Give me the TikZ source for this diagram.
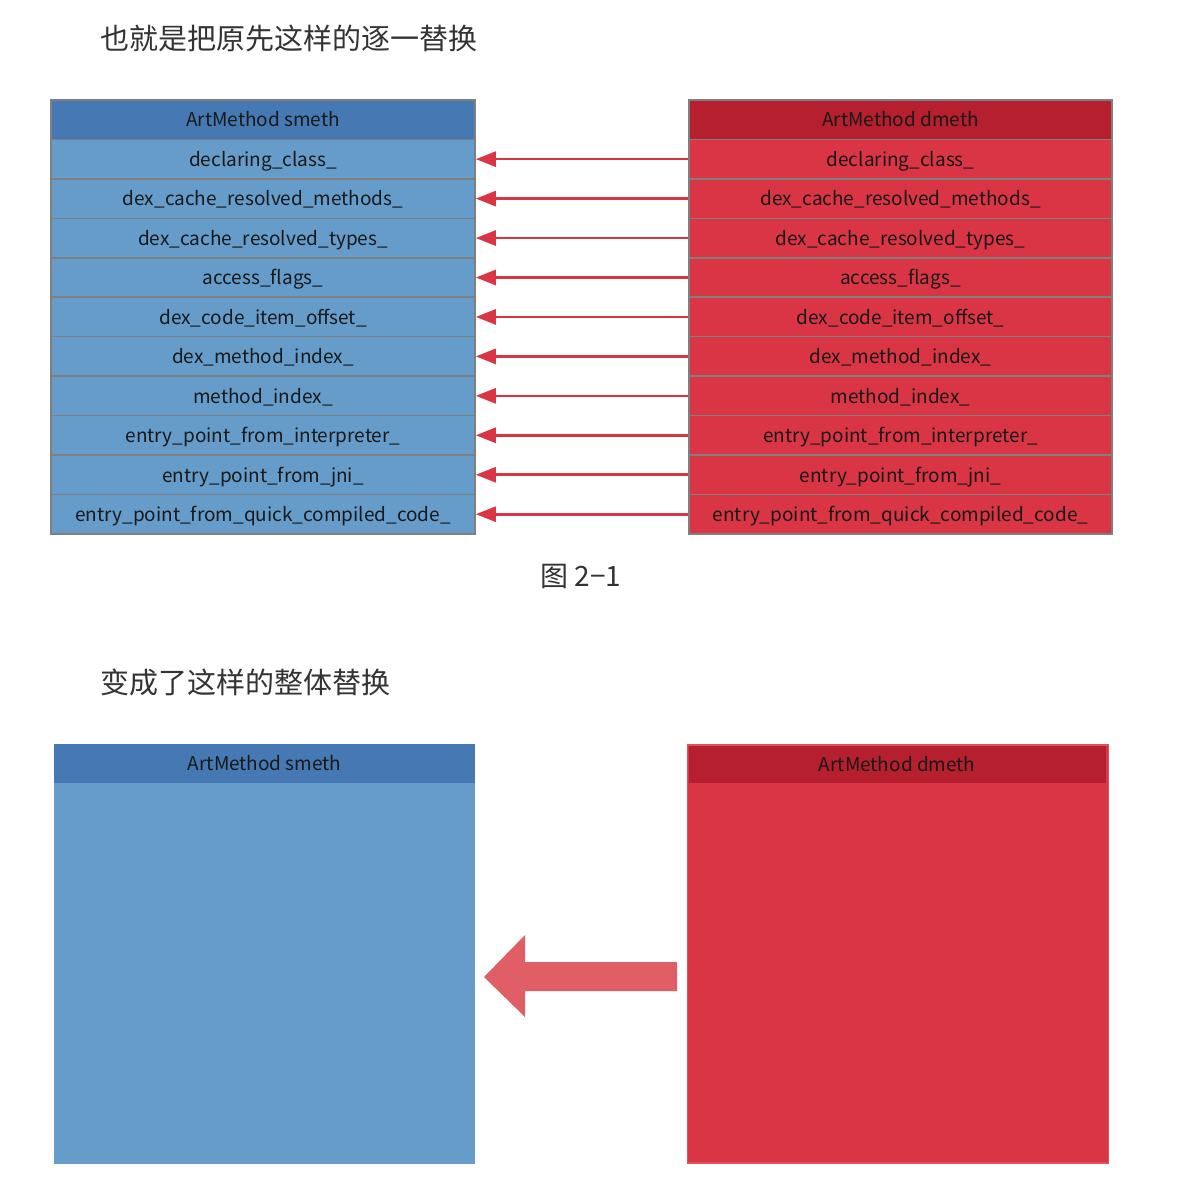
\documentclass[tikz,border=0pt]{standalone}
\usepackage{fontspec}
\setmainfont{Noto Sans CJK SC}
\usetikzlibrary{arrows.meta}
\definecolor{bhead}{HTML}{4679B3}
\definecolor{brow}{HTML}{659CC9}
\definecolor{rhead}{HTML}{B51F2E}
\definecolor{rrow}{HTML}{DA3545}
\definecolor{rborder}{HTML}{E2505C}
\definecolor{bigarrow}{HTML}{E05F66}
\definecolor{gridgray}{HTML}{7F7F7F}
\definecolor{titlegray}{HTML}{333333}
\begin{document}
\begin{tikzpicture}[x=1pt,y=-1pt,
  cell/.style={draw=gridgray,line width=1.6pt,minimum height=39.45pt,inner sep=0pt,
    text height=16.5pt,text depth=2pt,
    font=\fontsize{19}{23}\selectfont,text=black!90},
  lcell/.style={cell,fill=brow,minimum width=424pt},
  rcell/.style={cell,fill=rrow,minimum width=423pt},
  lhead/.style={lcell,fill=bhead},
  rhead/.style={rcell,fill=rhead},
  copyline/.style={draw=rrow,line width=2.6pt,-{Triangle[length=20pt,width=15pt]}},
  title/.style={anchor=west,font=\fontsize{29}{33}\selectfont,text=titlegray},
  bighead/.style={inner sep=0pt,text height=16.5pt,text depth=2pt,font=\fontsize{19}{23}\selectfont,text=black!90}]
\useasboundingbox[fill=white] (0,0) rectangle (1190,1188);

\node[title] (t1) at (97,38) {也就是把原先这样的逐一替换};

\node[lhead] (L0) at (263,119.7) {ArtMethod smeth};
\node[rhead] (R0) at (900.5,119.7) {ArtMethod dmeth};
\foreach \i/\txt in {1/declaring\_class\_,2/dex\_cache\_resolved\_methods\_,
  3/dex\_cache\_resolved\_types\_,4/access\_flags\_,5/dex\_code\_item\_offset\_,
  6/dex\_method\_index\_,7/method\_index\_,8/entry\_point\_from\_interpreter\_,
  9/entry\_point\_from\_jni\_,10/entry\_point\_from\_quick\_compiled\_code\_}{
  \node[lcell] (L\i) at (263,{119.7+\i*39.45}) {\txt};
  \node[rcell] (R\i) at (900.5,{119.7+\i*39.45}) {\txt};
  \draw[copyline] (R\i.west) -- (L\i.east);
}

\node[anchor=center,font=\fontsize{28}{32}\selectfont,text=titlegray] (cap) at (581,576) {图 2−1};

\node[title] (t2) at (97,682) {变成了这样的整体替换};

% bottom left
\node[fill=brow,minimum width=421pt,minimum height=420pt,inner sep=0pt,anchor=north west] (LB) at (54,744) {};
\node[bighead,fill=bhead,minimum width=421pt,minimum height=39pt,anchor=north west] (LBH) at (54,744) {ArtMethod smeth};

% bottom right
\node[fill=rrow,draw=rborder,line width=1.5pt,minimum width=421pt,minimum height=418pt,inner sep=0pt,anchor=north west] (RB) at (686.5,744) {};
\node[bighead,fill=rhead,minimum width=417pt,minimum height=37pt,anchor=north west] (RBH) at (688.5,746) {ArtMethod dmeth};

% big arrow
\fill[bigarrow] (677,962) -- (525,962) -- (525,935) -- (484,977) -- (525,1017) -- (525,991) -- (677,991) -- cycle;
\end{tikzpicture}
\end{document}
